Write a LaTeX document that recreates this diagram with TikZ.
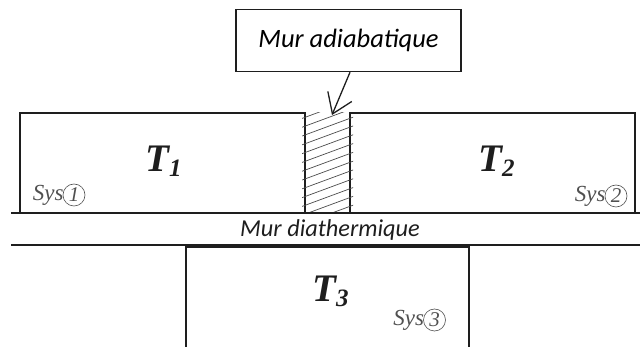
\documentclass[tikz,border=0pt]{standalone}
\usepackage{fontspec}
\setmainfont{Liberation Serif}
\newfontfamily\calib{Carlito}
\usetikzlibrary{arrows.meta}
\definecolor{ink}{HTML}{1E1E1E}
\definecolor{sysgray}{HTML}{505050}
\newcommand{\temp}[1]{\fontsize{39}{39}\selectfont\bfseries\itshape T\raisebox{-5pt}{\fontsize{25}{25}\selectfont #1}}
\tikzset{
  wall/.style={draw=ink, line width=1.5pt},
  hatch/.style={draw=ink!80, line width=0.7pt},
  pointer/.style={draw=ink, line width=1.3pt, -{Straight Barb[length=19pt,width=26pt]}},
  tag/.style={draw=ink, line width=1.5pt, minimum width=225pt, minimum height=62pt, inner sep=0pt, font=\calib\itshape\fontsize{26.5}{30}\selectfont},
  tlabel/.style={anchor=base west, inner sep=0pt, text=ink},
  systxt/.style={anchor=east, inner sep=0pt, text=sysgray, font=\itshape\fontsize{23}{23}\selectfont},
  sysnum/.style={circle, draw=sysgray, line width=0.6pt, minimum size=22pt, inner sep=0pt, text=sysgray, font=\itshape\fontsize{21}{21}\selectfont}
}
\begin{document}
\begin{tikzpicture}[x=1pt, y=-1pt]
\useasboundingbox (0,0) rectangle (640,347);
\draw[wall] (20,213) -- (20,113) -- (305,113) -- (305,213);
\draw[wall] (350,213) -- (350,113) -- (635,113) -- (635,213);
\begin{scope}
\clip (302,113) rectangle (353,213);
\foreach \k in {-3,...,11}
  \draw[hatch] (300,128+8.8*\k) -- ++(56,-20.7);
\end{scope}
\draw[wall] (11,213) -- (640,213);
\draw[wall] (11,245) -- (640,245);
\draw[wall] (186,350) -- (186,247) -- (469,247) -- (469,350);
\node[tag] (lbl) at (348.5,40.5) {Mur adiabatique};
\coordinate (tip) at (332,115);
\draw[pointer] ([xshift=1.5pt]lbl.south) -- (tip);
\node[tlabel] (t1) at (145,172) {\temp{1}};
\node[tlabel] (t2) at (478,172) {\temp{2}};
\node[tlabel] (t3) at (312,302) {\temp{3}};
\node[anchor=base, inner sep=0pt, text=ink, font=\calib\itshape\fontsize{24.3}{28}\selectfont] (dia) at (330,237) {Mur diathermique};
\node[sysnum] (c1) at (74,195) {1};
\node[systxt] (s1) at ([xshift=1pt]c1.west) {Sys};
\node[sysnum] (c2) at (616,196) {2};
\node[systxt] (s2) at ([xshift=1pt]c2.west) {Sys};
\node[sysnum] (c3) at (434.5,320) {3};
\node[systxt] (s3) at ([xshift=1pt]c3.west) {Sys};
\end{tikzpicture}
\end{document}
